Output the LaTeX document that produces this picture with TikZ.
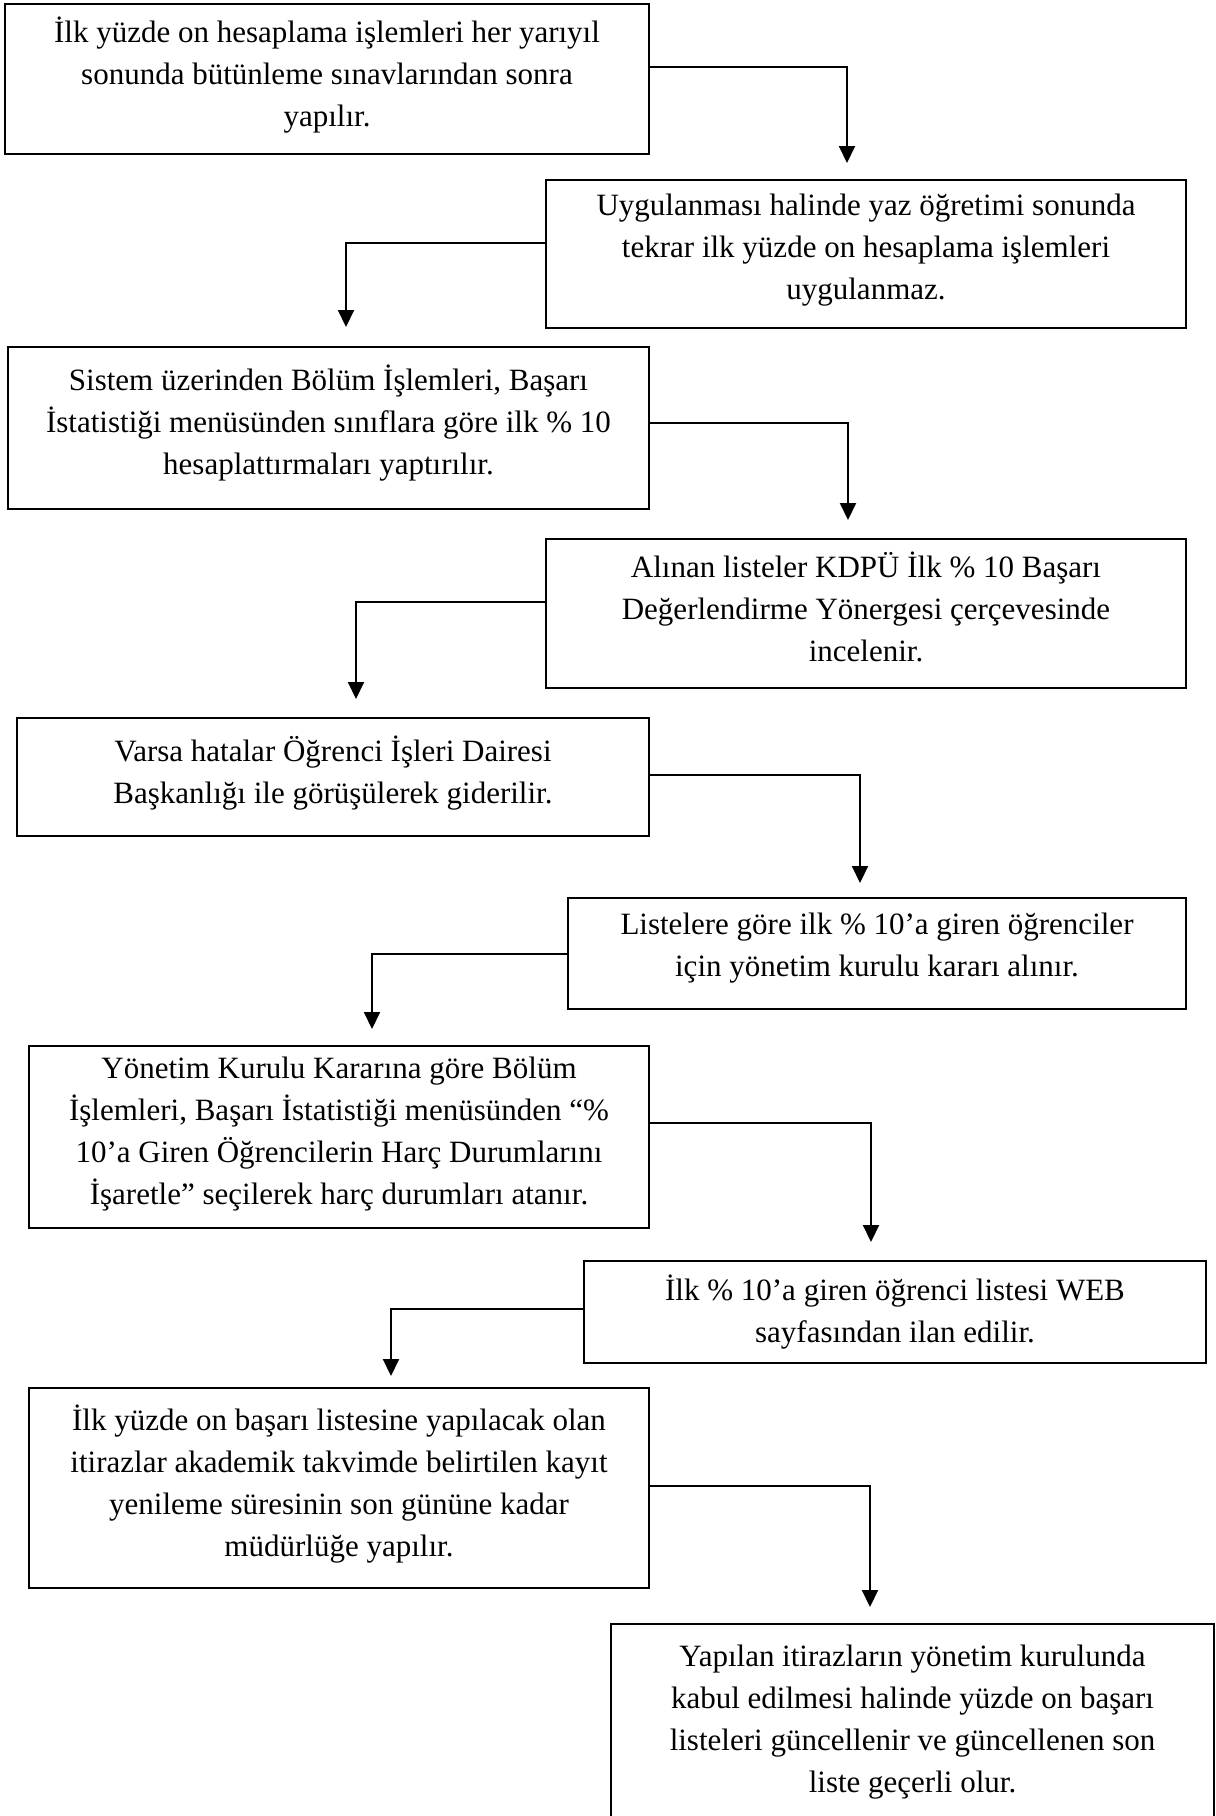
\documentclass[tikz,border=0pt]{standalone}
\usepackage{fontspec}
\setmainfont{Liberation Serif}
\usetikzlibrary{arrows.meta}
\begin{document}
\begin{tikzpicture}[x=0.5pt,y=-0.5pt,
  box/.style={draw, line width=1.1pt, inner sep=0pt},
  txt/.style={align=center, inner sep=0pt, font=\fontsize{15.5}{21}\selectfont},
  arr/.style={line width=1pt, -{Triangle[length=8.5pt,width=8pt]}}]
\useasboundingbox (0,0) rectangle (1216,1816);
% boxes
\node[box, minimum width=322pt, minimum height=75pt] (b1) at (327,79) {};
\node[box, minimum width=320pt, minimum height=74pt] (b2) at (866,254) {};
\node[box, minimum width=320.5pt, minimum height=81pt] (b3) at (328.5,428) {};
\node[box, minimum width=320pt, minimum height=74.5pt] (b4) at (866,613.5) {};
\node[box, minimum width=316pt, minimum height=59pt] (b5) at (333,777) {};
\node[box, minimum width=309pt, minimum height=55.5pt] (b6) at (877,953.5) {};
\node[box, minimum width=310pt, minimum height=91pt] (b7) at (339,1137) {};
\node[box, minimum width=311pt, minimum height=51pt] (b8) at (895,1312) {};
\node[box, minimum width=310pt, minimum height=100pt] (b9) at (339,1488) {};
\node[box, minimum width=301.5pt, minimum height=98pt] (b10) at (912.5,1722) {};
% texts
\node[txt] (x1) at (327,75.5) {İlk yüzde on hesaplama işlemleri her yarıyıl\\sonunda bütünleme sınavlarından sonra\\yapılır.};
\node[txt] (x2) at (866,250) {Uygulanması halinde yaz öğretimi sonunda\\tekrar ilk yüzde on hesaplama işlemleri\\uygulanmaz.};
\node[txt] (x3) at (328.5,423) {Sistem üzerinden Bölüm İşlemleri, Başarı\\İstatistiği menüsünden sınıflara göre ilk \% 10\\hesaplattırmaları yaptırılır.};
\node[txt] (x4) at (866,607) {Alınan listeler KDPÜ İlk \% 10 Başarı\\Değerlendirme Yönergesi çerçevesinde\\incelenir.};
\node[txt] (x5) at (333,773) {Varsa hatalar Öğrenci İşleri Dairesi\\Başkanlığı ile görüşülerek giderilir.};
\node[txt] (x6) at (877,948) {Listelere göre ilk \% 10’a giren öğrenciler\\için yönetim kurulu kararı alınır.};
\node[txt] (x7) at (339,1134) {Yönetim Kurulu Kararına göre Bölüm\\İşlemleri, Başarı İstatistiği menüsünden “\%\\10’a Giren Öğrencilerin Harç Durumlarını\\İşaretle” seçilerek harç durumları atanır.};
\node[txt] (x8) at (895,1312) {İlk \% 10’a giren öğrenci listesi WEB\\sayfasından ilan edilir.};
\node[txt] (x9) at (339,1484) {İlk yüzde on başarı listesine yapılacak olan\\itirazlar akademik takvimde belirtilen kayıt\\yenileme süresinin son gününe kadar\\müdürlüğe yapılır.};
\node[txt] (x10) at (912.5,1722) {Yapılan itirazların yönetim kurulunda\\kabul edilmesi halinde yüzde on başarı\\listeleri güncellenir ve güncellenen son\\liste geçerli olur.};
% connector levels and tips
\coordinate (s1) at (0,67);   \coordinate (t1) at (847,163);
\coordinate (s2) at (0,243);  \coordinate (t2) at (346,327);
\coordinate (s3) at (0,423);  \coordinate (t3) at (848,520);
\coordinate (s4) at (0,602);  \coordinate (t4) at (356,699);
\coordinate (s5) at (0,775);  \coordinate (t5) at (860,883);
\coordinate (s6) at (0,954);  \coordinate (t6) at (372,1029);
\coordinate (s7) at (0,1123); \coordinate (t7) at (871,1242);
\coordinate (s8) at (0,1309); \coordinate (t8) at (391,1376);
\coordinate (s9) at (0,1486); \coordinate (t9) at (870,1607);
\draw[arr] (b1.east |- s1) -| (t1);
\draw[arr] (b2.west |- s2) -| (t2);
\draw[arr] (b3.east |- s3) -| (t3);
\draw[arr] (b4.west |- s4) -| (t4);
\draw[arr] (b5.east |- s5) -| (t5);
\draw[arr] (b6.west |- s6) -| (t6);
\draw[arr] (b7.east |- s7) -| (t7);
\draw[arr] (b8.west |- s8) -| (t8);
\draw[arr] (b9.east |- s9) -| (t9);
\end{tikzpicture}
\end{document}
